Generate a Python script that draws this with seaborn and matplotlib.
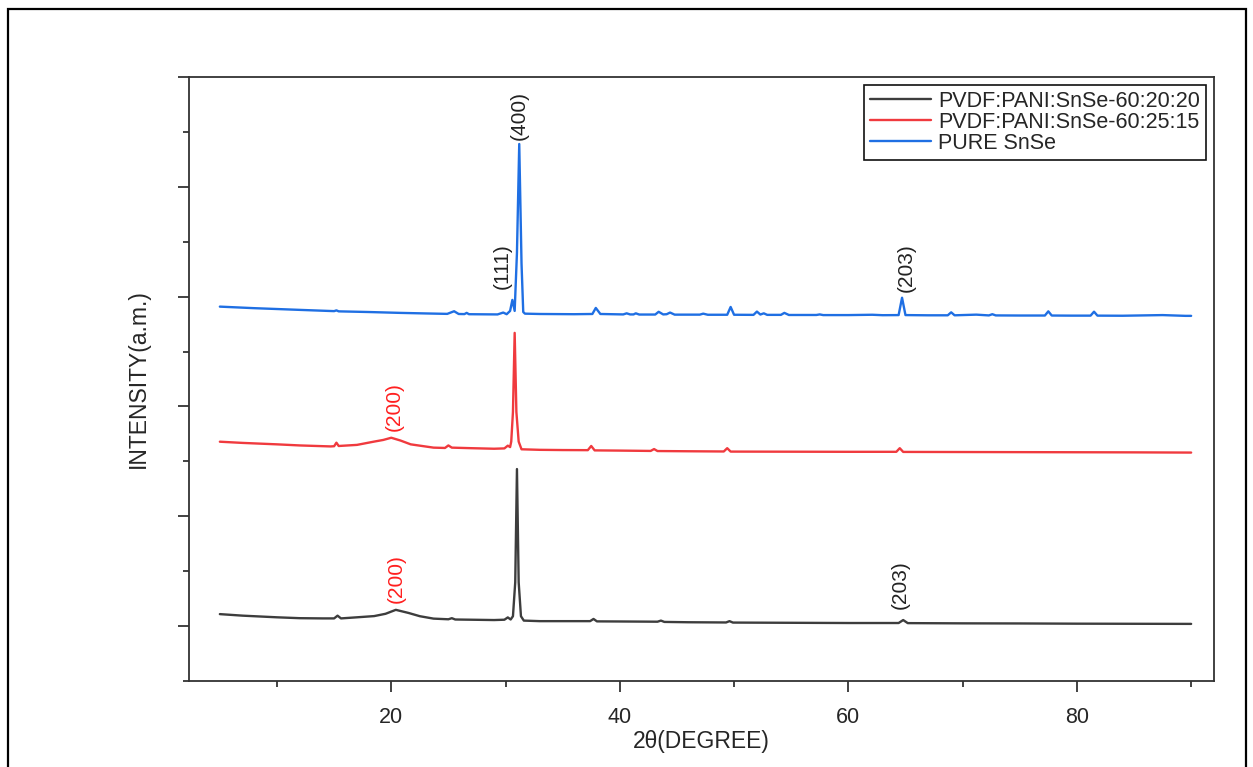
import matplotlib
matplotlib.use("Agg")
import matplotlib.pyplot as plt
from matplotlib.patches import Rectangle
from matplotlib.ticker import MultipleLocator
import seaborn as sns
import pandas as pd

# ---------------- data ----------------
series_names = ["PVDF:PANI:SnSe-60:20:20", "PVDF:PANI:SnSe-60:25:15", "PURE SnSe"]
series_colors = ["#3d3d3d", "#f03a3e", "#1f6fe3"]

black_x = [5, 7, 10, 12, 14, 15.0, 15.3, 15.6, 17, 18.5, 19.5, 20.4, 21.5, 22.5, 23.7,
           25.0, 25.3, 25.6, 27, 29, 29.9, 30.2, 30.45, 30.65, 30.85, 31.0, 31.15, 31.35,
           31.6, 33, 35, 37.4, 37.7, 38.0, 40, 43.3, 43.6, 43.9, 46, 49.3, 49.6, 49.9,
           55, 60, 64.4, 64.8, 65.2, 70, 75, 80, 85, 90]
black_y = [0.109, 0.095, 0.080, 0.072, 0.070, 0.070, 0.095, 0.070, 0.080, 0.091, 0.112,
           0.148, 0.120, 0.090, 0.068, 0.062, 0.072, 0.060, 0.058, 0.055, 0.058, 0.079,
           0.060, 0.090, 0.400, 1.430, 0.400, 0.090, 0.050, 0.045, 0.045, 0.045, 0.065,
           0.043, 0.042, 0.040, 0.050, 0.038, 0.035, 0.033, 0.045, 0.032, 0.030, 0.028,
           0.028, 0.055, 0.027, 0.025, 0.024, 0.022, 0.021, 0.020]

red_x = [5, 7, 10, 12, 14.7, 15.0, 15.2, 15.4, 17, 18.5, 19.3, 20.0, 20.8, 21.7, 23.7,
         24.7, 25.0, 25.3, 27, 29, 29.9, 30.2, 30.4, 30.5, 30.65, 30.8, 30.95, 31.15,
         31.4, 33, 35, 37.2, 37.5, 37.8, 40, 42.7, 43.0, 43.3, 46, 49.1, 49.4, 49.7,
         55, 60, 64.2, 64.5, 64.8, 70, 75, 80, 85, 90]
red_y = [1.679, 1.668, 1.655, 1.645, 1.636, 1.638, 1.670, 1.640, 1.650, 1.680, 1.695,
         1.715, 1.690, 1.655, 1.625, 1.622, 1.645, 1.625, 1.620, 1.615, 1.618, 1.643,
         1.630, 1.680, 1.950, 2.670, 1.950, 1.680, 1.610, 1.605, 1.603, 1.602, 1.640,
         1.600, 1.598, 1.595, 1.612, 1.594, 1.592, 1.590, 1.620, 1.589, 1.588, 1.587,
         1.587, 1.620, 1.586, 1.585, 1.584, 1.583, 1.582, 1.580]

blue_x = [5, 8, 12.1, 15.0, 15.2, 15.4, 18, 20.8, 23, 24.9, 25.5, 25.9, 26.4, 26.6, 26.8,
          29.3, 29.8, 30.1, 30.4, 30.6, 30.8, 31.0, 31.2, 31.4, 31.55, 31.7, 33, 36,
          37.6, 37.9, 38.3, 40.3, 40.6, 40.9, 41.2, 41.4, 41.7, 43.1, 43.4, 43.8, 44.1,
          44.4, 44.8, 47.0, 47.3, 47.7, 49.4, 49.7, 50.0, 51.7, 52.0, 52.3, 52.6, 52.9,
          54.1, 54.4, 54.8, 57.2, 57.5, 57.8, 60, 62.1, 63, 64.4, 64.7, 65.0, 67, 68.7,
          69.0, 69.3, 71.2, 72.3, 72.6, 72.9, 75, 77.2, 77.5, 77.8, 79.5, 81.2, 81.5,
          81.8, 84, 87.5, 89.5, 90]
blue_y = [2.909, 2.895, 2.879, 2.868, 2.875, 2.866, 2.860, 2.852, 2.847, 2.843, 2.867,
          2.842, 2.841, 2.852, 2.840, 2.838, 2.855, 2.840, 2.870, 2.970, 2.870, 3.400,
          4.390, 3.300, 2.860, 2.845, 2.842, 2.840, 2.842, 2.897, 2.842, 2.838, 2.848,
          2.838, 2.838, 2.848, 2.837, 2.837, 2.862, 2.838, 2.840, 2.855, 2.836, 2.836,
          2.845, 2.835, 2.835, 2.906, 2.835, 2.834, 2.864, 2.837, 2.848, 2.834, 2.834,
          2.852, 2.833, 2.833, 2.838, 2.832, 2.832, 2.835, 2.831, 2.832, 2.990, 2.832,
          2.830, 2.830, 2.857, 2.830, 2.836, 2.829, 2.840, 2.829, 2.828, 2.828, 2.866,
          2.828, 2.827, 2.827, 2.863, 2.827, 2.826, 2.832, 2.825, 2.825]

# peak annotations: (label, x, y_bottom, colour)
peak_labels = ["(400)", "(111)", "(203)", "(200)", "(200)", "(203)"]
peak_x = [31.2, 29.75, 65.07, 20.24, 20.4, 64.5]
peak_y = [4.43, 3.07, 3.04, 1.78, 0.21, 0.16]
peak_colors = ["#222222", "#222222", "#222222", "#ff1f1f", "#ff1f1f", "#222222"]

x_ticks = [20, 40, 60, 80]

# ---------------- figure ----------------
sns.set_theme(style="ticks")
plt.rcParams["font.family"] = ["Liberation Sans", "DejaVu Sans"]

fig = plt.figure(figsize=(12.53, 7.67), dpi=100)
ax = fig.add_axes([189 / 1253, 1 - 681 / 767, (1214 - 189) / 1253, (681 - 77) / 767])

frames = []
for name, xs, ys in zip(series_names, [black_x, red_x, blue_x], [black_y, red_y, blue_y]):
    frames.append(pd.DataFrame({"theta": xs, "intensity": ys, "sample": name}))
df = pd.concat(frames, ignore_index=True)

sns.lineplot(data=df, x="theta", y="intensity", hue="sample", hue_order=series_names,
             palette=series_colors, linewidth=1.7, ax=ax, sort=False, estimator=None)

for lab, px, py, c in zip(peak_labels, peak_x, peak_y, peak_colors):
    ax.text(px, py, lab, rotation=90, ha="center", va="bottom", fontsize=15, color=c)

ax.set_xlim(2.3, 92)
ax.set_ylim(-0.5, 5)
ax.xaxis.set_major_locator(MultipleLocator(20))
ax.xaxis.set_minor_locator(MultipleLocator(10))
ax.set_xticks(x_ticks)
ax.yaxis.set_major_locator(MultipleLocator(1))
ax.yaxis.set_minor_locator(MultipleLocator(0.5))
ax.set_yticklabels([])
ax.tick_params(axis="both", which="major", direction="out", length=8, width=1.2,
               color="#222222", labelsize=15.5, top=False, right=False)
ax.tick_params(axis="both", which="minor", direction="out", length=4, width=1.2,
               color="#222222", top=False, right=False)
ax.tick_params(axis="x", pad=11)
for side in ["left", "bottom", "top", "right"]:
    ax.spines[side].set_visible(True)
    ax.spines[side].set_linewidth(1.3)
    ax.spines[side].set_color("#333333")

ax.set_xlabel("2θ(DEGREE)", fontsize=16.5, labelpad=1)
ax.set_ylabel("INTENSITY(a.m.)", fontsize=16.5, labelpad=17)

leg = ax.legend(loc="upper right", fontsize=15.5, frameon=True, fancybox=False,
                edgecolor="#111111", framealpha=1, handlelength=2.8, handletextpad=0.35,
                labelspacing=0.0, borderpad=0.3, borderaxespad=0.35)
leg.get_frame().set_linewidth(1.2)
for line in leg.get_lines():
    line.set_linewidth(1.7)

# outer frame around the whole picture
fig.patches.append(Rectangle((8 / 1253, -0.01), (1246 - 8) / 1253, 1 - 9 / 767 + 0.01,
                             transform=fig.transFigure, fill=False, edgecolor="black",
                             linewidth=1.6))

fig.savefig("out.png", dpi=100)
